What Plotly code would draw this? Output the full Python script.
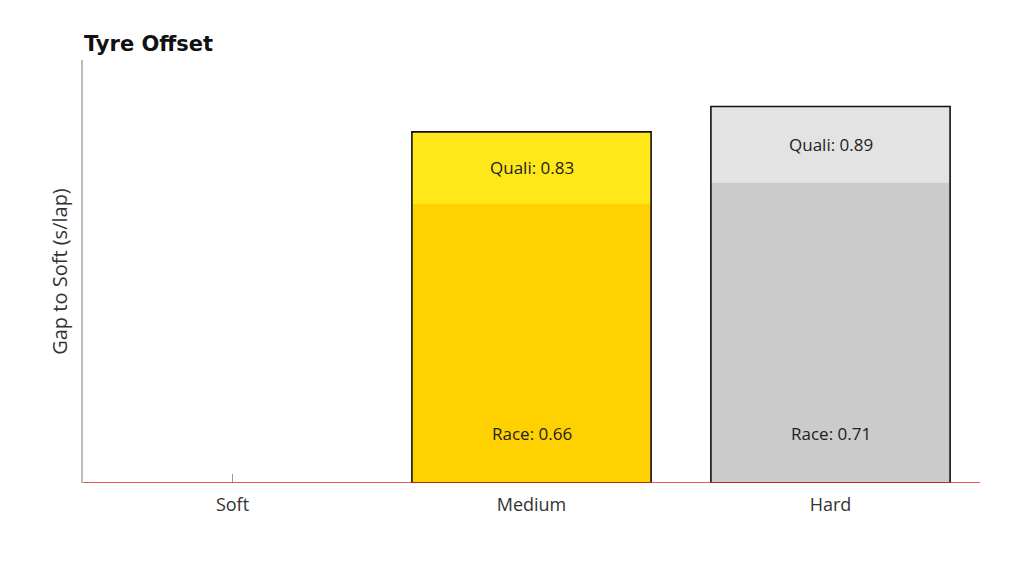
import plotly.graph_objects as go

categories = ["Soft", "Medium", "Hard"]
quali = [0, 0.83, 0.89]
race = [0, 0.66, 0.71]
quali_colors = ["#FFFFFF", "#FFE81A", "#E3E3E3"]
race_colors = ["#FFFFFF", "#FFD100", "#CBCBCB"]

FONT = "Open Sans"

fig = go.Figure()
fig.add_trace(go.Bar(x=categories, y=quali, marker=dict(color=quali_colors, line=dict(width=0)),
                     width=0.8, showlegend=False, hoverinfo="skip"))
fig.add_trace(go.Bar(x=categories, y=race, marker=dict(color=race_colors, line=dict(width=0)),
                     width=0.8, showlegend=False, hoverinfo="skip"))
outline = [v if v > 0 else None for v in quali]
fig.add_trace(go.Bar(x=categories, y=outline,
                     marker=dict(color="rgba(0,0,0,0)", line=dict(color="#111111", width=1.6)),
                     width=0.8, showlegend=False, hoverinfo="skip"))

for c, q, r in zip(categories, quali, race):
    if q > 0:
        fig.add_annotation(x=c, y=(q + r) / 2, xref="x", yref="y", text=f"Quali: {q:.2f}",
                           showarrow=False, font=dict(family=FONT, size=17, color="#222"))
    if r > 0:
        fig.add_annotation(x=c, y=0, xref="x", yref="y", yshift=50, text=f"Race: {r:.2f}",
                           showarrow=False, font=dict(family=FONT, size=17, color="#222"))

# red baseline drawn above the bars
fig.add_shape(type="line", xref="paper", yref="y", x0=0, x1=1, y0=0, y1=0,
              line=dict(color="#E62020", width=1.5), layer="above")

fig.update_layout(
    width=1024, height=576,
    barmode="overlay",
    bargap=0.2,
    plot_bgcolor="white", paper_bgcolor="white",
    margin=dict(l=75, r=52, t=52, b=101),
    title=dict(text="<b>Tyre Offset</b>", x=76 / 1024, xanchor="left", y=1 - 36 / 576, yanchor="middle",
               font=dict(family="DejaVu Sans", size=21, color="#111", weight=900)),
    xaxis=dict(range=[-0.5, 2.5], showline=False, layer="below traces",
               ticks="inside", ticklen=9, tickcolor="#999", tickwidth=1, ticklabelstandoff=9,
               tickfont=dict(family=FONT, size=18, color="#333"), showgrid=False, zeroline=False),
    yaxis=dict(range=[0, 1], showline=True, linecolor="#BBBBBB", linewidth=1.5,
               showticklabels=False, ticks="", showgrid=False, zeroline=False,
               title=dict(text="Gap to Soft (s/lap)", font=dict(family=FONT, size=20, color="#333"), standoff=8)),
)

fig.write_html("out.html")
